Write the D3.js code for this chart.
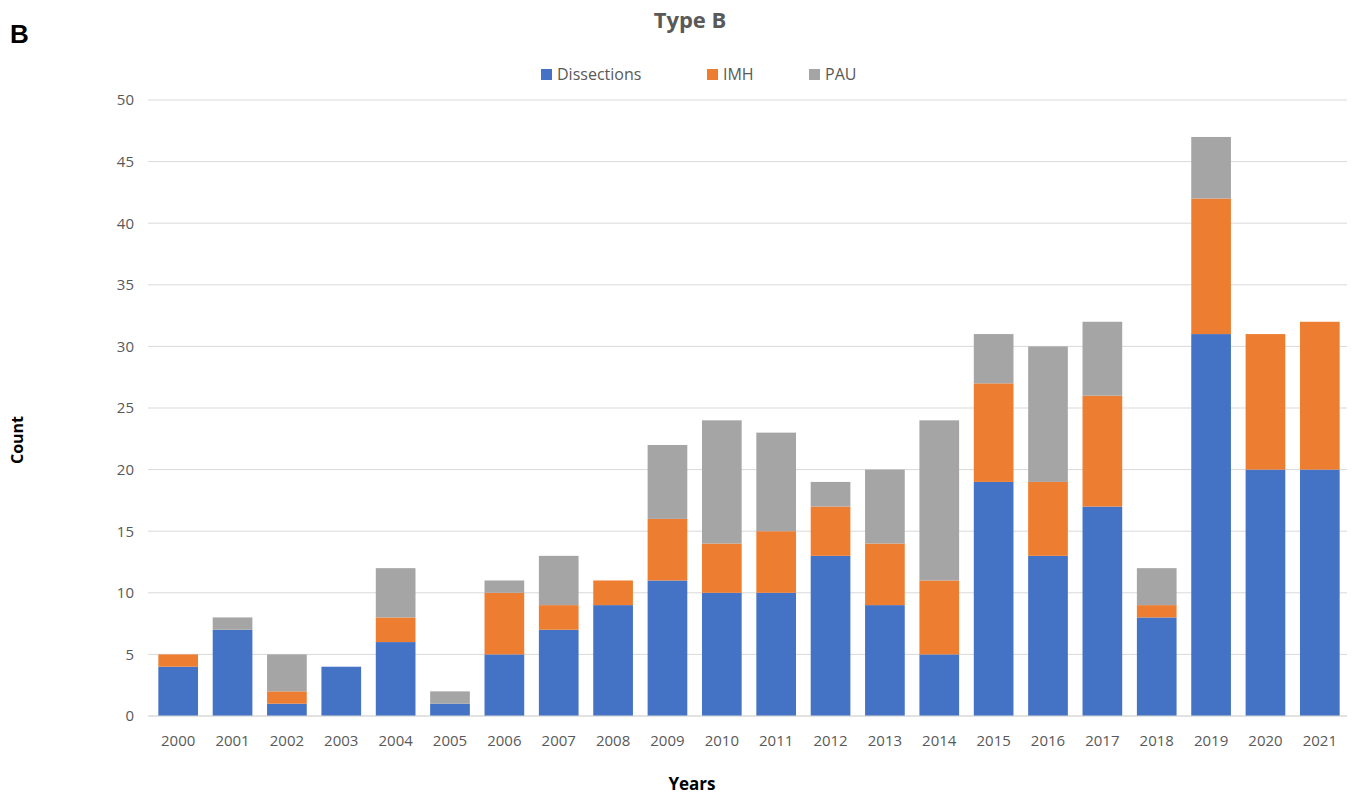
<!DOCTYPE html>
<html><head><meta charset="utf-8">
<script src="https://cdn.jsdelivr.net/npm/d3@7"></script>
<style>body{margin:0;background:#fff;} svg{display:block;font-family:"Open Sans","Noto Sans",sans-serif;}</style>
</head><body>
<svg id="chart" width="1356" height="798"></svg>
<script>
const years = ["2000","2001","2002","2003","2004","2005","2006","2007","2008","2009","2010","2011","2012","2013","2014","2015","2016","2017","2018","2019","2020","2021"];
const dissections = [4,7,1,4,6,1,5,7,9,11,10,10,13,9,5,19,13,17,8,31,20,20];
const imh =         [1,0,1,0,2,0,5,2,2,5,4,5,4,5,6,8,6,9,1,11,11,12];
const pau =         [0,1,3,0,4,1,1,4,0,6,10,8,2,6,13,4,11,6,3,5,0,0];
const seriesNames = ["Dissections","IMH","PAU"];
const colors = ["#4472C4","#ED7D31","#A5A5A5"];
const yTicks = [0,5,10,15,20,25,30,35,40,45,50];

const svg = d3.select("#chart");
const x = d3.scaleBand().domain(years).range([151,1347]).paddingInner(0.27).paddingOuter(0.135);
const y = d3.scaleLinear().domain([0,50]).range([716,100]);

// gridlines
svg.append("g").selectAll("line").data(yTicks).join("line")
  .attr("x1",148).attr("x2",1347).attr("y1",d=>y(d)).attr("y2",d=>y(d))
  .attr("stroke","#D9D9D9").attr("stroke-width",1);

// y axis labels
const yAxis = svg.append("g").attr("transform","translate(134,0)")
  .call(d3.axisLeft(y).tickValues(yTicks).tickSize(0).tickPadding(0));
yAxis.select(".domain").remove();
yAxis.selectAll("text").attr("font-size",15).attr("fill","#595959").attr("font-family","'Open Sans',sans-serif");

// x axis labels
const xAxis = svg.append("g").attr("transform","translate(0,735)")
  .call(d3.axisBottom(x).tickSize(0).tickPadding(0));
xAxis.select(".domain").remove();
xAxis.selectAll("text").attr("font-size",15).attr("fill","#595959").attr("font-family","'Open Sans',sans-serif");

// stacked data
const rows = years.map((yr,i)=>({year:yr, Dissections:dissections[i], IMH:imh[i], PAU:pau[i]}));
const stack = d3.stack().keys(seriesNames)(rows);
svg.append("g").selectAll("g").data(stack).join("g")
  .attr("fill",(d,i)=>colors[i])
  .selectAll("rect").data(d=>d).join("rect")
  .attr("x",d=>x(d.data.year)).attr("width",x.bandwidth())
  .attr("y",d=>y(d[1])).attr("height",d=>y(d[0])-y(d[1]));

// baseline
svg.append("line").attr("x1",148).attr("x2",1347).attr("y1",y(0)).attr("y2",y(0)).attr("stroke","#D9D9D9");

// title
svg.append("text").attr("x",690).attr("y",28).attr("text-anchor","middle")
  .attr("font-size",22).attr("font-weight","bold").attr("fill","#595959").text("Type B");
svg.append("text").attr("x",10).attr("y",43).attr("font-size",26).attr("font-weight","bold")
  .attr("font-family","'Liberation Sans',Arial,sans-serif").attr("fill","#000").text("B");

// legend
const legX = [541,707,809];
const lg = svg.append("g").selectAll("g").data(seriesNames).join("g")
  .attr("transform",(d,i)=>`translate(${legX[i]},74)`);
lg.append("rect").attr("x",0).attr("y",-5).attr("width",11).attr("height",11).attr("fill",(d,i)=>colors[i]);
lg.append("text").attr("x",16).attr("y",6).attr("font-size",16).attr("fill","#595959").text(d=>d);

// axis titles
svg.append("text").attr("transform","translate(23,440) rotate(-90)").attr("text-anchor","middle")
  .attr("font-size",16).attr("font-weight","bold").attr("fill","#000").text("Count");
svg.append("text").attr("x",692).attr("y",790).attr("text-anchor","middle")
  .attr("font-size",17).attr("font-weight","bold").attr("fill","#000").text("Years");
</script>
</body></html>
